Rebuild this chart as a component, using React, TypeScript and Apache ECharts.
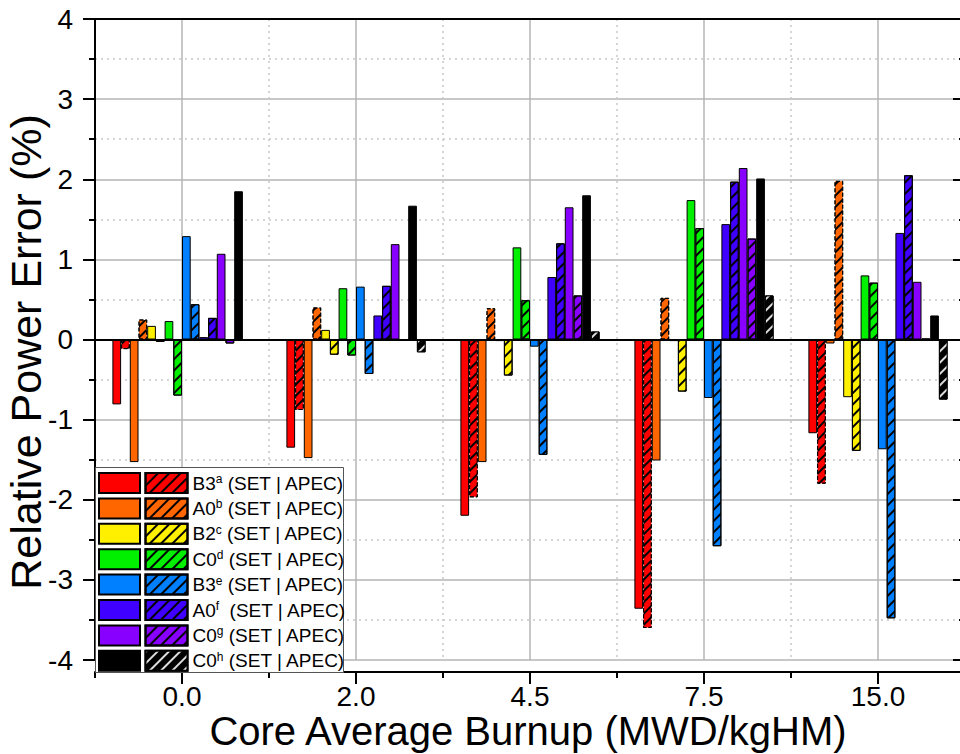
import React, { useEffect, useRef } from "react";
import * as echarts from "echarts";

// ---------- data ----------
const categories = ["0.0", "2.0", "4.5", "7.5", "15.0"];
const yTicks = [-4, -3, -2, -1, 0, 1, 2, 3, 4];

const B3a_SET = [-0.81, -1.35, -2.2, -3.36, -1.17];
const B3a_APEC = [-0.12, -0.88, -1.97, -3.6, -1.8];
const A0b_SET = [-1.53, -1.48, -1.53, -1.51, -0.05];
const A0b_APEC = [0.25, 0.4, 0.39, 0.52, 1.98];
const B2c_SET = [0.17, 0.12, -0.02, -0.02, -0.72];
const B2c_APEC = [-0.03, -0.19, -0.45, -0.65, -1.39];
const C0d_SET = [0.23, 0.64, 1.15, 1.74, 0.8];
const C0d_APEC = [-0.7, -0.2, 0.49, 1.39, 0.71];
const B3e_SET = [1.29, 0.66, -0.09, -0.73, -1.37];
const B3e_APEC = [0.44, -0.43, -1.44, -2.58, -3.48];
const A0f_SET = [0.03, 0.3, 0.78, 1.44, 1.33];
const A0f_APEC = [0.27, 0.67, 1.2, 1.97, 2.05];
const C0g_SET = [1.07, 1.19, 1.65, 2.14, 0.72];
const C0g_APEC = [-0.05, 0.0, 0.55, 1.26, 0.01];
const C0h_SET = [1.85, 1.67, 1.8, 2.01, 0.3];
const C0h_APEC = [0.0, -0.16, 0.1, 0.55, -0.75];

const groupBase = ["B3", "A0", "B2", "C0", "B3", "A0", "C0", "C0"];
const groupSup = ["a", "b", "c", "d", "e", "f", "g", "h"];
const groupColor = ["#FF0000", "#FF6600", "#FFF000", "#00F000", "#0080FF", "#4000FF", "#8800FF", "#000000"];
const setData = [B3a_SET, A0b_SET, B2c_SET, C0d_SET, B3e_SET, A0f_SET, C0g_SET, C0h_SET];
const apecData = [B3a_APEC, A0b_APEC, B2c_APEC, C0d_APEC, B3e_APEC, A0f_APEC, C0g_APEC, C0h_APEC];

const FONT = "'Liberation Sans', Arial, Helvetica, sans-serif";

export default function App() {
  const ref = useRef<HTMLDivElement>(null);

  useEffect(() => {
    if (!ref.current) return;
    const chart = echarts.init(ref.current, undefined, { renderer: "svg" });

    const series: any[] = [];
    const setNames: string[] = [];
    const apecNames: string[] = [];
    const labelMap: Record<string, string> = {};

    groupBase.forEach((base, i) => {
      const key = base + groupSup[i];
      const color = groupColor[i];
      const setName = key + " SET";
      const apecName = key + " APEC";
      setNames.push(setName);
      apecNames.push(apecName);
      labelMap[apecName] = `${base}{sup|${groupSup[i]}}${groupSup[i] === "f" ? "  " : " "}(SET | APEC)`;
      series.push({
        name: setName,
        type: "bar",
        xAxisIndex: 0,
        yAxisIndex: 0,
        data: setData[i],
        barGap: "0%",
        barCategoryGap: "20%",
        itemStyle: { color, borderColor: "#000", borderWidth: 1 },
      });
      series.push({
        name: apecName,
        type: "bar",
        xAxisIndex: 0,
        yAxisIndex: 0,
        data: apecData[i],
        barGap: "0%",
        barCategoryGap: "20%",
        itemStyle: {
          color,
          borderColor: "#000",
          borderWidth: 1,
          borderType: i < 2 ? "dashed" : "solid",
          decal: {
            symbol: "rect",
            symbolSize: 1,
            dashArrayX: [1, 0],
            dashArrayY: [1.2, 5.2],
            rotation: -Math.PI / 4,
            color: i === 7 ? "#dddddd" : "#000000",
          },
        },
      });
    });

    series[series.length - 1].markLine = {
      silent: true,
      symbol: ["none", "none"],
      label: { show: false },
      lineStyle: { color: "#000", width: 2, type: "solid" },
      data: [{ yAxis: 0 }],
    };

    const option: any = {
      animation: false,
      backgroundColor: "#ffffff",
      textStyle: { fontFamily: FONT },
      grid: {
        left: 95,
        top: 19,
        width: 870,
        height: 641,
        containLabel: false,
        outerBoundsMode: "none",
      },
      xAxis: [
        {
          type: "category",
          data: categories,
          position: "bottom",
          offset: 12,
          axisLine: { show: true, onZero: false, lineStyle: { color: "#000", width: 2 } },
          axisTick: { show: true, alignWithLabel: true, length: 12, lineStyle: { color: "#000", width: 2 } },
          axisLabel: { fontSize: 28, color: "#000", margin: 10, fontFamily: FONT },
          splitLine: { show: true, alignWithLabel: true, lineStyle: { color: "#b4b4b4", width: 1.5, type: "solid" } },
        },
        {
          type: "category",
          data: categories,
          position: "bottom",
          offset: 12,
          axisLine: { show: false, onZero: false },
          axisTick: { show: true, length: 6, lineStyle: { color: "#000", width: 2 } },
          axisLabel: { show: false },
          splitLine: { show: true, lineStyle: { color: "#c8c8c8", width: 1.5, type: [2, 4] } },
        },
        {
          type: "category",
          data: categories,
          position: "top",
          axisLine: { show: true, onZero: false, lineStyle: { color: "#000", width: 2 } },
          axisTick: { show: false },
          axisLabel: { show: false },
          splitLine: { show: false },
        },
      ],
      yAxis: [
        {
          type: "value",
          position: "left",
          min: yTicks[0],
          max: yTicks[yTicks.length - 1],
          interval: 1,
          axisLine: { show: true, onZero: false, lineStyle: { color: "#000", width: 2 } },
          axisTick: { show: true, length: 12, lineStyle: { color: "#000", width: 2 } },
          minorTick: { show: true, splitNumber: 2, length: 6, lineStyle: { color: "#000", width: 2 } },
          axisLabel: { fontSize: 28, color: "#000", margin: 22, fontFamily: FONT },
          splitLine: { show: true, lineStyle: { color: "#b4b4b4", width: 1.5 } },
          minorSplitLine: { show: true, lineStyle: { color: "#c8c8c8", width: 1.5, type: [2, 4] } },
        },
        {
          type: "value",
          position: "right",
          min: yTicks[0],
          max: yTicks[yTicks.length - 1],
          interval: 1,
          axisLine: { show: true, onZero: false, lineStyle: { color: "#000", width: 2 } },
          axisTick: { show: true, inside: true, length: 12, lineStyle: { color: "#000", width: 2 } },
          minorTick: { show: true, splitNumber: 2, length: 6, lineStyle: { color: "#000", width: 2 } },
          axisLabel: { show: false },
          splitLine: { show: false },
        },
      ],
      legend: [
        {
          data: setNames,
          orient: "vertical",
          left: 98,
          top: 472,
          padding: 0,
          itemWidth: 41,
          itemHeight: 20,
          itemGap: 3.4,
          icon: "rect",
          selectedMode: false,
          formatter: () => "",
          textStyle: { fontSize: 10 },
          z: 5,
        },
        {
          data: apecNames,
          orient: "vertical",
          left: 144.5,
          top: 472,
          padding: 0,
          itemWidth: 42,
          itemHeight: 20,
          itemGap: 3.4,
          icon: "rect",
          selectedMode: false,
          formatter: (name: string) => labelMap[name],
          textStyle: {
            fontSize: 19,
            color: "#000",
            fontFamily: FONT,
            lineHeight: 20,
            rich: {
              sup: { fontSize: 12, lineHeight: 20, verticalAlign: "top", fontFamily: FONT, color: "#000" },
            },
          },
          z: 5,
        },
      ],
      graphic: [
        {
          type: "rect",
          z: 3,
          shape: { x: 95.5, y: 467.5, width: 248, height: 205 },
          style: { fill: "#ffffff", stroke: "#555555", lineWidth: 1 },
        },
        {
          type: "text",
          x: 26,
          y: 352,
          rotation: Math.PI / 2,
          z: 5,
          style: {
            text: "Relative Power Error (%)",
            fontSize: 43,
            fontFamily: FONT,
            fill: "#000",
            align: "center",
            verticalAlign: "middle",
          },
        },
        {
          type: "text",
          x: 528,
          y: 731,
          z: 5,
          style: {
            text: "Core Average Burnup (MWD/kgHM)",
            fontSize: 40,
            fontFamily: FONT,
            fill: "#000",
            align: "center",
            verticalAlign: "middle",
          },
        },
      ],
      series,
    };

    chart.setOption(option);
    return () => chart.dispose();
  }, []);

  return (
    <div
      ref={ref}
      style={{ position: "fixed", left: 0, top: 0, width: 960, height: 754, background: "#fff" }}
    />
  );
}
